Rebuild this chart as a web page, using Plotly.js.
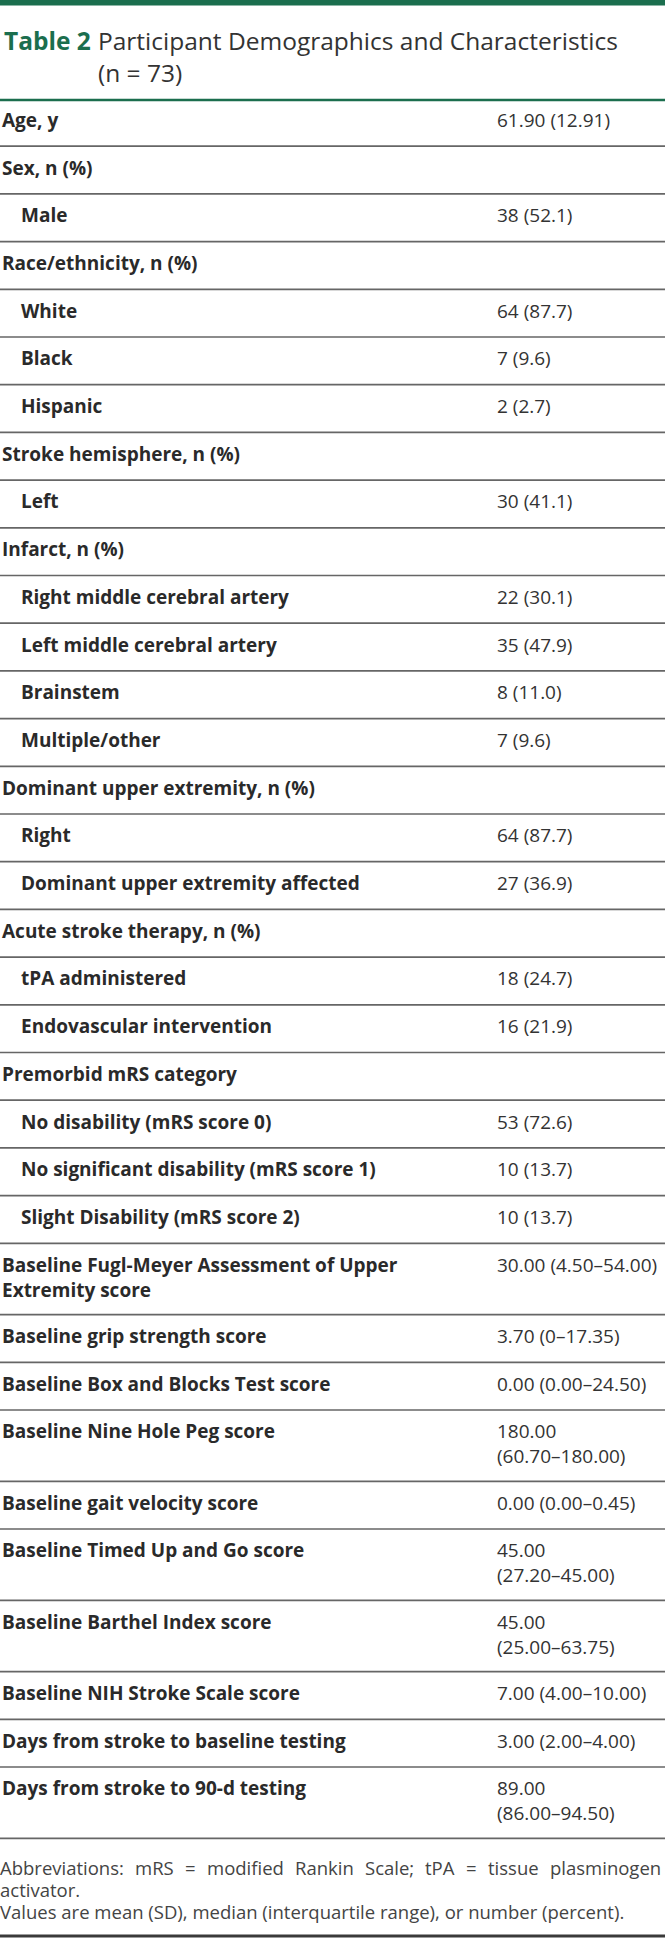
<!DOCTYPE html>
<html>
<head>
<meta charset="utf-8">
<script src="https://cdn.plot.ly/plotly-3.0.1.min.js"></script>
<style>html,body{margin:0;padding:0;background:#ffffff;}</style>
</head>
<body>
<div id="chart" style="width:665px;height:1944px;"></div>
<script>
// ---------------- data ----------------
const tableNumber = "Table 2";
const titleLines = ["Participant Demographics and Characteristics", "(n = 73)"];

const rowLabels = [
  "Age, y",
  "Sex, n (%)",
  "Male",
  "Race/ethnicity, n (%)",
  "White",
  "Black",
  "Hispanic",
  "Stroke hemisphere, n (%)",
  "Left",
  "Infarct, n (%)",
  "Right middle cerebral artery",
  "Left middle cerebral artery",
  "Brainstem",
  "Multiple/other",
  "Dominant upper extremity, n (%)",
  "Right",
  "Dominant upper extremity affected",
  "Acute stroke therapy, n (%)",
  "tPA administered",
  "Endovascular intervention",
  "Premorbid mRS category",
  "No disability (mRS score 0)",
  "No significant disability (mRS score 1)",
  "Slight Disability (mRS score 2)",
  "Baseline Fugl-Meyer Assessment of Upper<br>Extremity score",
  "Baseline grip strength score",
  "Baseline Box and Blocks Test score",
  "Baseline Nine Hole Peg score",
  "Baseline gait velocity score",
  "Baseline Timed Up and Go score",
  "Baseline Barthel Index score",
  "Baseline NIH Stroke Scale score",
  "Days from stroke to baseline testing",
  "Days from stroke to 90-d testing"
];

const rowValues = [
  "61.90 (12.91)",
  "",
  "38 (52.1)",
  "",
  "64 (87.7)",
  "7 (9.6)",
  "2 (2.7)",
  "",
  "30 (41.1)",
  "",
  "22 (30.1)",
  "35 (47.9)",
  "8 (11.0)",
  "7 (9.6)",
  "",
  "64 (87.7)",
  "27 (36.9)",
  "",
  "18 (24.7)",
  "16 (21.9)",
  "",
  "53 (72.6)",
  "10 (13.7)",
  "10 (13.7)",
  "30.00 (4.50\u201354.00)",
  "3.70 (0\u201317.35)",
  "0.00 (0.00\u201324.50)",
  "180.00<br>(60.70\u2013180.00)",
  "0.00 (0.00\u20130.45)",
  "45.00<br>(27.20\u201345.00)",
  "45.00<br>(25.00\u201363.75)",
  "7.00 (4.00\u201310.00)",
  "3.00 (2.00\u20134.00)",
  "89.00<br>(86.00\u201394.50)"
];

// 0 = group heading, 1 = indented sub-item
const rowLevels = [
  0, 0, 1, 0, 1, 1, 1, 0, 1, 0, 1, 1, 1, 1, 0, 1, 1, 0, 1, 1, 0, 1, 1, 1,
  0, 0, 0, 0, 0, 0, 0, 0, 0, 0
];

const footnoteLines = [
  "Abbreviations: mRS = modified Rankin Scale; tPA = tissue plasminogen",
  "activator.",
  "Values are mean (SD), median (interquartile range), or number (percent)."
];
// lines set justified (full width) in the reference
const footnoteJustified = [true, false, false];

// ---------------- layout constants ----------------
const W = 665, H = 1944;
const GREEN = "#1b6e4e";
const FONT = "Open Sans, Noto Sans, sans-serif";
const FS = 19;
const LINE_STEP = 1.3 * FS;
const ROW_TOP = 98.5;
const ROW_BASE = 47.7;
const ROW_EXTRA = 23.6;
const FIRST_LINE = 21.35;
const LABEL_X = [2, 21];
const VALUE_X = 497;
const FOOT_FS = 18.5;
const FOOT_RIGHT = 661;
const TITLE_FS = 24.5;

const shapes = [];
const annotations = [];

function addText(x, y, text, size, color, weight, yanchor) {
  annotations.push({xref: "x", yref: "y", x: x, y: y, xanchor: "left", yanchor: yanchor || "middle",
    align: "left", text: text, showarrow: false, borderpad: 0, borderwidth: 0,
    font: {family: FONT, size: size, color: color, weight: weight}});
}

// top green bar
shapes.push({type: "rect", xref: "x", yref: "y", x0: 0, x1: W, y0: 0, y1: 5.5,
  fillcolor: GREEN, line: {width: 0}, layer: "above"});
// rule under title
shapes.push({type: "line", xref: "x", yref: "y", x0: 0, x1: W, y0: 100, y1: 100,
  line: {color: GREEN, width: 2.6}});

// title
addText(4, 40.2, tableNumber, TITLE_FS, GREEN, 700);
addText(98, 40.2 + 0.65 * TITLE_FS, titleLines.join("<br>"), TITLE_FS, "#333333", 400);

// rows
const nLines = s => s.split("<br>").length;
let rowY = ROW_TOP;
rowLabels.forEach((lab, i) => {
  const nl = nLines(lab), nv = nLines(rowValues[i]);
  const n = Math.max(nl, nv);
  const h = ROW_BASE + (n - 1) * ROW_EXTRA;
  addText(LABEL_X[rowLevels[i]], rowY + FIRST_LINE + (nl - 1) * LINE_STEP / 2, lab, FS, "#2a2a2a", 700);
  if (rowValues[i]) {
    addText(VALUE_X, rowY + FIRST_LINE + (nv - 1) * LINE_STEP / 2, rowValues[i], FS, "#333333", 400);
  }
  rowY += h;
  shapes.push({type: "line", xref: "x", yref: "y", x0: 0, x1: W, y0: rowY, y1: rowY,
    line: {color: "#666666", width: 1.7}});
});

// footnotes (first line justified across the full width)
const ctx = document.createElement("canvas").getContext("2d");
ctx.font = "400 " + FOOT_FS + "px 'Open Sans'";
const FOOT_TOP = rowY + 29;
footnoteLines.forEach((t, i) => {
  const y = FOOT_TOP + i * 22;
  if (footnoteJustified[i]) {
    const words = t.split(" ");
    const widths = words.map(w => ctx.measureText(w).width);
    const total = widths.reduce((a, b) => a + b, 0);
    const gap = (FOOT_RIGHT - total) / (words.length - 1);
    let x = 0;
    words.forEach((w, k) => {
      addText(x, y, w, FOOT_FS, "#444444", 400);
      x += widths[k] + gap;
    });
  } else {
    addText(0, y, t, FOOT_FS, "#444444", 400);
  }
});
// bottom rule
shapes.push({type: "line", xref: "x", yref: "y", x0: 0, x1: W, y0: 1936, y1: 1936,
  line: {color: "#3a3a3a", width: 3}});

const layout = {
  width: W, height: H,
  margin: {l: 0, r: 0, t: 0, b: 0, pad: 0},
  paper_bgcolor: "#ffffff", plot_bgcolor: "#ffffff",
  showlegend: false,
  xaxis: {range: [0, W], visible: false, fixedrange: true},
  yaxis: {range: [H, 0], visible: false, fixedrange: true},
  shapes: shapes,
  annotations: annotations
};

Plotly.newPlot("chart", [], layout, {displayModeBar: false, staticPlot: true});
</script>
</body>
</html>
